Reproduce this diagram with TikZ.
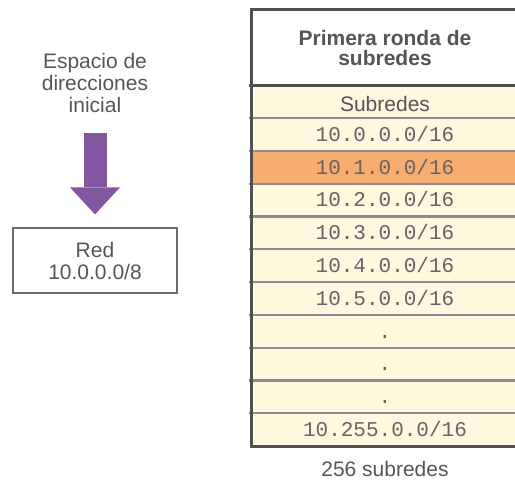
\documentclass[tikz,border=0pt]{standalone}
\usepackage{fontspec}
\setmainfont{Liberation Sans}
\setmonofont{Liberation Mono}
\usepackage{tikz}
\usetikzlibrary{arrows.meta}
\definecolor{TextGray}{RGB}{85,85,85}
\definecolor{MonoGray}{RGB}{100,100,100}
\definecolor{FrameGray}{RGB}{80,80,80}
\definecolor{LineGray}{RGB}{140,140,140}
\definecolor{CreamRow}{RGB}{255,247,222}
\definecolor{OrangeRow}{RGB}{247,172,114}
\definecolor{PurpleArrow}{RGB}{131,86,160}

\begin{document}
\begin{tikzpicture}[x=1pt,y=-1pt,
  lbl/.style={inner sep=0pt,align=center,text=TextGray,font=\fontsize{21}{22}\selectfont},
  netbox/.style={draw=FrameGray!85,line width=1.2pt,minimum width=164pt,minimum height=65pt,inner sep=0pt,align=center,text=TextGray,font=\fontsize{21}{22}\selectfont},
  hdrbox/.style={fill=white,minimum width=266pt,minimum height=75pt,inner sep=0pt,align=center,text=TextGray,font=\fontsize{21}{20}\selectfont\bfseries},
  row/.style={fill=CreamRow,minimum width=266pt,minimum height=32.8pt,inner sep=0pt,text=MonoGray,font=\fontsize{21}{22}\selectfont\ttfamily,text height=16pt,text depth=2pt},
  subrow/.style={row,text=TextGray,font=\fontsize{21}{22}\selectfont\rmfamily,text height=21pt,text depth=0pt},
  sep/.style={LineGray,line width=2.2pt},
  frame/.style={FrameGray,line width=3pt},
  bigarrow/.style={PurpleArrow,line width=23pt,-{Triangle[width=50pt,length=27pt,line width=0pt]}}
]
\useasboundingbox (0,0) rectangle (515,483);
\clip (0,0) rectangle (515,483);

% left side
\node[lbl] (space) at (95,82.5) {Espacio de\\direcciones\\inicial};
\node[netbox] (net) at (95,260.5) {Red\\10.0.0.0/8};
\draw[bigarrow,shorten <=21pt,shorten >=13pt] (space.south) -- (net.north);

% table
\node[hdrbox] (hdr) at (385,47.5) {Primera ronda de\\subredes};
\node[subrow] (r0) at (385,101.41) {Subredes};
\node[row] (r1) at (385,134.23) {10.0.0.0/16};
\node[row,fill=OrangeRow] (r2) at (385,167.05) {10.1.0.0/16};
\node[row] (r3) at (385,199.86) {10.2.0.0/16};
\node[row] (r4) at (385,232.68) {10.3.0.0/16};
\node[row] (r5) at (385,265.50) {10.4.0.0/16};
\node[row] (r6) at (385,298.32) {10.5.0.0/16};
\node[row] (r7) at (385,331.14) {.};
\node[row] (r8) at (385,363.95) {.};
\node[row] (r9) at (385,396.77) {.};
\node[row] (r10) at (385,429.59) {10.255.0.0/16};

\draw[sep] ([xshift=-3pt]r0.south west) -- (r0.south east);
\draw[sep] ([xshift=-3pt]r1.south west) -- (r1.south east);
\draw[sep] ([xshift=-3pt]r2.south west) -- (r2.south east);
\draw[sep] ([xshift=-3pt]r3.south west) -- (r3.south east);
\draw[sep] ([xshift=-3pt]r4.south west) -- (r4.south east);
\draw[sep] ([xshift=-3pt]r5.south west) -- (r5.south east);
\draw[sep] ([xshift=-3pt]r6.south west) -- (r6.south east);
\draw[sep] ([xshift=-3pt]r7.south west) -- (r7.south east);
\draw[sep] ([xshift=-3pt]r8.south west) -- (r8.south east);
\draw[sep] ([xshift=-3pt]r9.south west) -- (r9.south east);
\draw[frame] ([xshift=-3pt]hdr.south west) -- (hdr.south east);
\draw[frame] (hdr.north east) -- (hdr.north west) -- (r10.south west) -- (r10.south east);

\node[lbl,anchor=base] (count) at (385,476.5) {256 subredes};
\end{tikzpicture}
\end{document}
